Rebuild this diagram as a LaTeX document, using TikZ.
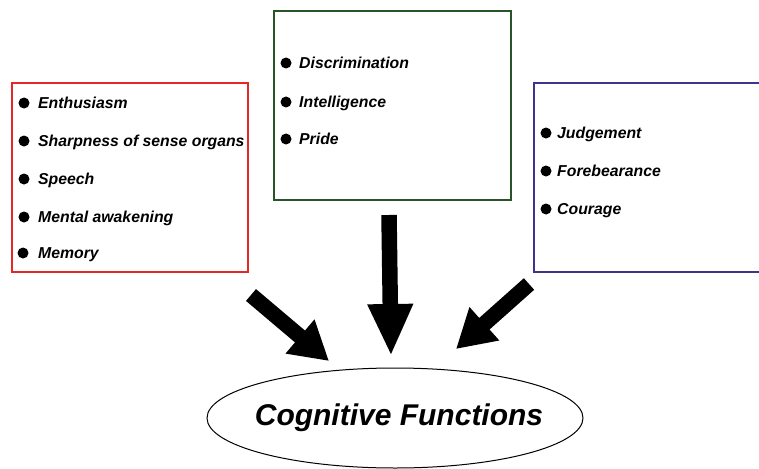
\documentclass[tikz,border=0pt]{standalone}
\usepackage{fontspec}
\setmainfont{Liberation Sans}
\usetikzlibrary{arrows.meta}

\definecolor{boxred}{RGB}{228,40,40}
\definecolor{boxgreen}{RGB}{40,84,40}
\definecolor{boxblue}{RGB}{62,52,138}

\tikzset{
	groupbox/.style={draw, line width=1.5pt, rectangle, inner sep=0pt},
	dot/.style={circle, fill=black, inner sep=0pt, minimum size=11pt},
	entry/.style={anchor=base west, inner sep=0pt,
		font=\fontsize{15.8}{19}\selectfont\bfseries\itshape},
	bigarrow/.style={line width=15.5pt, -{Triangle[width=42pt,length=#1]}},
	bigarrow/.default=38pt
}

\begin{document}
\begin{tikzpicture}[x=1pt, y=-1pt]
	\useasboundingbox (0,0) rectangle (759,468);
	\clip (0,0) rectangle (759,468);

	% the three groups
	\draw[groupbox, boxred] (12,83) rectangle (248,272);
	\draw[groupbox, boxgreen] (274,11) rectangle (511,200);
	\draw[groupbox, boxblue] (534,83) rectangle (775,272);

	% left group
	\node[dot] (d1) at (24,103) {};
	\node[entry] (e1) at (38,108.5) {Enthusiasm};
	\node[dot] (d2) at (24,141) {};
	\node[entry] (e2) at (38,146.5) {Sharpness of sense organs};
	\node[dot] (d3) at (24,179) {};
	\node[entry] (e3) at (38,184.5) {Speech};
	\node[dot] (d4) at (24,217) {};
	\node[entry] (e4) at (38,222.5) {Mental awakening};
	\node[dot] (d5) at (23,253) {};
	\node[entry] (e5) at (38,258.5) {Memory};

	% middle group
	\node[dot] (d6) at (286,63) {};
	\node[entry] (e6) at (299,68.5) {Discrimination};
	\node[dot] (d7) at (286,102) {};
	\node[entry] (e7) at (299,107.5) {Intelligence};
	\node[dot] (d8) at (286,139) {};
	\node[entry] (e8) at (299,144.5) {Pride};

	% right group
	\node[dot] (d9) at (546,133) {};
	\node[entry] (e9) at (557,138.5) {Judgement};
	\node[dot] (d10) at (546,171) {};
	\node[entry] (e10) at (557,176.5) {Forebearance};
	\node[dot] (d11) at (546,209) {};
	\node[entry] (e11) at (557,214.5) {Courage};

	% target
	\node[font=\fontsize{30}{36}\selectfont\bfseries\itshape] (cog) at (399,418)
		{Cognitive Functions};
	\draw[line width=1pt] (395,418) ellipse [x radius=188pt, y radius=50pt];

	% arrows
	\coordinate (lt) at (251,295);
	\coordinate (lh) at (329,361);
	\coordinate (mt) at (389,215);
	\coordinate (mh) at (391,356);
	\coordinate (rt) at (529,284);
	\coordinate (rh) at (456,349);
	\draw[bigarrow] (lt) -- (lh);
	\draw[bigarrow=52pt] (mt) -- (mh);
	\draw[bigarrow] (rt) -- (rh);
\end{tikzpicture}
\end{document}
